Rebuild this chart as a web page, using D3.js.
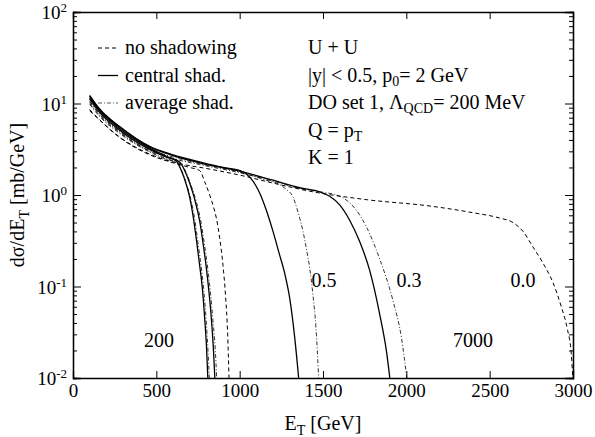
<!DOCTYPE html>
<html>
<head>
<meta charset="utf-8">
<script src="https://cdn.jsdelivr.net/npm/d3@7"></script>
<style>
  body { margin: 0; background: #fff; }
  .axis path, .axis line { stroke: #000; }
  .curve { fill: none; stroke: #000; }
</style>
</head>
<body>
<svg id="chart" width="595" height="437"></svg>
<script>
// E_T in GeV, dsigma/dE_T in mb/GeV
var s200a = [[100,11.6],[160,8.3],[280,5.3],[460,3.25],[560,2.65],[620,2.35],[650,1.85],[680,1.3],[700,0.95],[720,0.6],[740,0.33],[760,0.17],[775,0.1],[790,0.045],[801,0.022],[809,0.01]];
var dd200a = [[100,10.4],[160,7.6],[280,4.9],[460,3.0],[560,2.5],[625,2.25],[655,1.8],[685,1.25],[710,0.85],[730,0.55],[750,0.3],[770,0.16],[785,0.09],[800,0.04],[810,0.02],[818,0.01]];
var s200b = [[100,11.2],[160,8.0],[280,5.1],[460,3.15],[560,2.6],[640,2.3],[670,1.85],[700,1.35],[730,0.9],[760,0.52],[780,0.3],[800,0.16],[815,0.09],[830,0.045],[843,0.02],[851,0.01]];
var dd200b = [[100,9.8],[160,7.2],[280,4.7],[460,2.95],[560,2.45],[645,2.2],[680,1.75],[710,1.25],[740,0.85],[770,0.48],[790,0.28],[810,0.15],[825,0.085],[840,0.042],[854,0.02],[862,0.01]];
var d200 = [[100,8.6],[160,6.6],[280,4.25],[460,2.75],[600,2.25],[700,2.0],[760,1.85],[790,1.4],[820,1.0],[845,0.72],[861,0.55],[880,0.34],[900,0.17],[915,0.08],[928,0.03],[936,0.01]];

var s05 = [[100,12.3],[160,8.7],[280,5.6],[460,3.4],[600,2.75],[760,2.3],[900,2.0],[1000,1.85],[1040,1.7],[1080,1.42],[1120,1.05],[1160,0.68],[1200,0.4],[1240,0.22],[1270,0.14],[1300,0.075],[1330,0.028],[1354,0.01]];
var dd05 = [[100,10.6],[160,7.7],[280,5.0],[460,3.15],[600,2.6],[760,2.2],[1000,1.78],[1160,1.45],[1240,1.3],[1280,1.15],[1320,0.95],[1350,0.65],[1380,0.4],[1400,0.26],[1420,0.16],[1440,0.08],[1458,0.035],[1474,0.01]];
var s03 = [[100,12.0],[160,8.5],[280,5.5],[460,3.35],[600,2.7],[760,2.25],[1000,1.82],[1200,1.45],[1360,1.2],[1480,1.08],[1540,0.97],[1600,0.78],[1660,0.53],[1720,0.31],[1780,0.15],[1840,0.05],[1880,0.02],[1901,0.01]];
var dd03 = [[100,10.0],[160,7.4],[280,4.8],[460,3.05],[600,2.5],[760,2.15],[1000,1.75],[1200,1.42],[1360,1.18],[1500,1.07],[1580,1.0],[1620,0.93],[1690,0.72],[1760,0.45],[1840,0.2],[1920,0.07],[1970,0.028],[2003,0.01]];
var d00 = [[100,8.3],[160,6.6],[280,4.3],[460,2.8],[640,2.2],[800,1.95],[1000,1.65],[1200,1.35],[1420,1.1],[1760,0.89],[2160,0.75],[2400,0.64],[2560,0.56],[2640,0.5],[2700,0.4],[2760,0.27],[2820,0.18],[2880,0.11],[2930,0.06],[2965,0.035],[2990,0.018],[2999,0.01]];

var xTicks = [0, 500, 1000, 1500, 2000, 2500, 3000];
var yDecades = [-2, -1, 0, 1, 2];
var legendNames = ['no shadowing', 'central shad.', 'average shad.'];
var curveLabels = [['0.5', 1506, 0.099], ['0.3', 2016, 0.099], ['0.0', 2700, 0.099], ['200', 516, 0.022], ['7000', 2400, 0.022]];

var FONT = "'Liberation Serif', 'Times New Roman', Times, 'DejaVu Serif', 'Noto Serif', serif";

var svg = d3.select('#chart');
var margin = { top: 12, right: 22, bottom: 59, left: 73 };
var width = +svg.attr('width') - margin.left - margin.right;
var height = +svg.attr('height') - margin.top - margin.bottom;

var x = d3.scaleLinear().domain([0, 3000]).range([0, width]);
var y = d3.scaleLog().domain([1e-2, 1e2]).range([height, 0]);

var g = svg.append('g').attr('transform', 'translate(' + margin.left + ',' + margin.top + ')');

g.append('defs').append('clipPath').attr('id', 'clip')
  .append('rect').attr('width', width).attr('height', height);

// minor log ticks 2..9 in each decade
var minor = [];
yDecades.slice(0, -1).forEach(function(e) {
  for (var k = 2; k <= 9; k++) minor.push(k * Math.pow(10, e));
});
var major = yDecades.map(function(e) { return Math.pow(10, e); });

// axes, ticks pointing inward
g.append('g').attr('class', 'axis').attr('transform', 'translate(0,' + height + ')')
  .call(d3.axisBottom(x).tickValues(xTicks).tickSize(-7).tickPadding(6).tickFormat(d3.format('d')))
  .selectAll('text').attr('font-size', 19);
g.append('g').attr('class', 'axis')
  .call(d3.axisTop(x).tickValues(xTicks).tickSize(-7).tickFormat(''));

g.append('g').attr('class', 'axis')
  .call(d3.axisLeft(y).tickValues(major).tickSize(-8).tickFormat(''));
g.append('g').attr('class', 'axis')
  .call(d3.axisLeft(y).tickValues(minor).tickSize(-4).tickFormat(''));
g.append('g').attr('class', 'axis').attr('transform', 'translate(' + width + ',0)')
  .call(d3.axisRight(y).tickValues(major).tickSize(-8).tickFormat(''));
g.append('g').attr('class', 'axis').attr('transform', 'translate(' + width + ',0)')
  .call(d3.axisRight(y).tickValues(minor).tickSize(-4).tickFormat(''));
g.selectAll('.axis .domain').attr('stroke-width', 1.3);

// y tick labels 10^n
yDecades.forEach(function(e) {
  var t = g.append('text').attr('x', -6).attr('y', y(Math.pow(10, e)) + 7)
    .attr('text-anchor', 'end').attr('font-size', 19);
  t.append('tspan').text('10');
  t.append('tspan').attr('font-size', 13).attr('dy', -7).text(e);
});

var line = d3.line()
  .x(function(d) { return x(d[0]); })
  .y(function(d) { return y(d[1]); })
  .curve(d3.curveMonotoneX);

var styles = {
  dashed: { dash: '4,3', w: 1.0, c: '#000' },
  solid: { dash: null, w: 1.3, c: '#000' },
  dashdot: { dash: '4,2,1,2', w: 0.8, c: '#333' }
};

var curves = [
  [d200, 'dashed'], [d00, 'dashed'],
  [dd200a, 'dashdot'], [dd200b, 'dashdot'], [dd05, 'dashdot'], [dd03, 'dashdot'],
  [s200a, 'solid'], [s200b, 'solid'], [s05, 'solid'], [s03, 'solid']
];

var plot = g.append('g').attr('clip-path', 'url(#clip)');
curves.forEach(function(c) {
  var st = styles[c[1]];
  plot.append('path').datum(c[0]).attr('class', 'curve')
    .attr('d', line)
    .attr('stroke', st.c)
    .attr('stroke-width', st.w)
    .attr('stroke-dasharray', st.dash);
});

// legend
var legStyles = ['dashed', 'solid', 'dashdot'];
legendNames.forEach(function(name, i) {
  var ly = 36 + i * 27.5;
  var st = styles[legStyles[i]];
  g.append('line').attr('x1', 25).attr('x2', 45).attr('y1', ly).attr('y2', ly)
    .attr('stroke', st.c).attr('stroke-width', st.w).attr('stroke-dasharray', st.dash);
  g.append('text').attr('x', 52).attr('y', ly + 6).attr('font-size', 20).text(name);
});

// run parameters
var info = g.append('g').attr('font-size', 20).attr('transform', 'translate(235,0)');
info.append('text').attr('y', 42).text('U + U');
var t2 = info.append('text').attr('y', 69.5);
t2.append('tspan').text('|y| < 0.5,  p');
t2.append('tspan').attr('font-size', 14).attr('dy', 4).text('0');
t2.append('tspan').attr('dy', -4).text('= 2 GeV');
var t3 = info.append('text').attr('y', 97);
t3.append('tspan').text('DO set 1,  Λ');
t3.append('tspan').attr('font-size', 14).attr('dy', 4).text('QCD');
t3.append('tspan').attr('dy', -4).text('= 200 MeV');
var t4 = info.append('text').attr('y', 124.5);
t4.append('tspan').text('Q = p');
t4.append('tspan').attr('font-size', 14).attr('dy', 4).text('T');
info.append('text').attr('y', 152).text('K = 1');

// curve labels
curveLabels.forEach(function(l) {
  g.append('text').attr('x', x(l[1])).attr('y', y(l[2]))
    .attr('text-anchor', 'middle').attr('font-size', 20).text(l[0]);
});

// axis titles
var xt = svg.append('text').attr('x', margin.left + width / 2).attr('y', 430)
  .attr('text-anchor', 'middle').attr('font-size', 20);
xt.append('tspan').text('E');
xt.append('tspan').attr('font-size', 14).attr('dy', 5).text('T');
xt.append('tspan').attr('dy', -5).text(' [GeV]');

var yt = svg.append('text').attr('transform', 'translate(24,' + (margin.top + height / 2) + ') rotate(-90)')
  .attr('text-anchor', 'middle').attr('font-size', 20);
yt.append('tspan').text('dσ/dE');
yt.append('tspan').attr('font-size', 14).attr('dy', 5).text('T');
yt.append('tspan').attr('dy', -5).text(' [mb/GeV]');

svg.selectAll('text').attr('font-family', null).style('font-family', FONT).attr('fill', '#000');
</script>
</body>
</html>
